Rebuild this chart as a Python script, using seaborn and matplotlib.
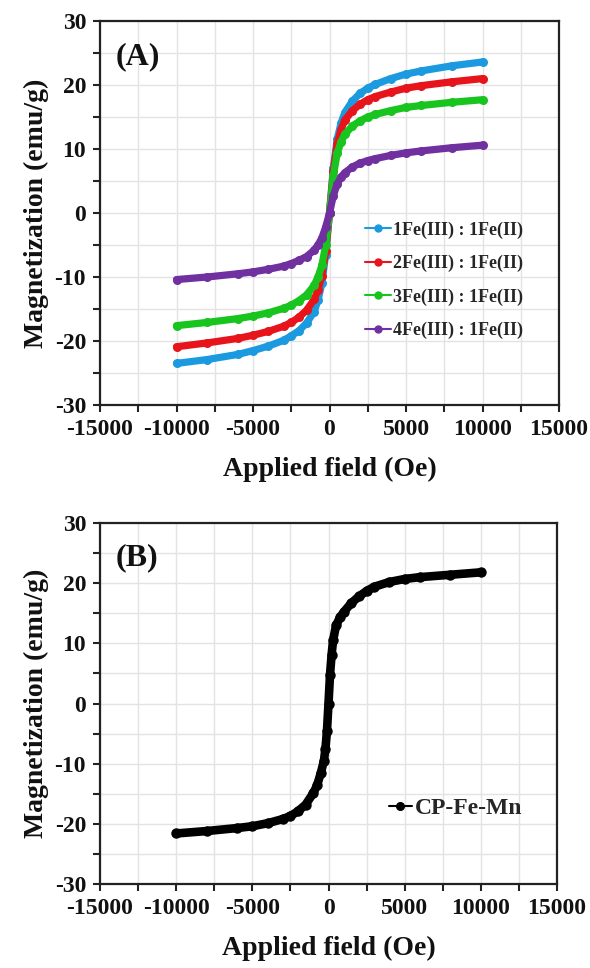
import numpy as np
import pandas as pd
import matplotlib
matplotlib.use("Agg")
import matplotlib.pyplot as plt
import matplotlib.ticker as mticker
from matplotlib.lines import Line2D
import seaborn as sns

# ---------------- data ----------------
field = [-10000, -8000, -6000, -5000, -4000, -3000, -2500, -2000, -1500, -1000,
         -750, -500, -250, 0, 250, 500, 750, 1000, 1500, 2000, 2500, 3000,
         4000, 5000, 6000, 8000, 10000]

m_1fe = [-23.5, -22.9, -22.1, -21.5, -20.8, -19.9, -19.2, -18.4, -17.2, -15.4,
         -13.6, -11.0, -6.5, 0.0, 7.0, 11.5, 14.0, 15.7, 17.5, 18.7, 19.5, 20.1,
         21.0, 21.7, 22.2, 23.0, 23.6]
m_2fe = [-20.9, -20.3, -19.6, -19.1, -18.5, -17.7, -17.1, -16.3, -15.2, -13.5,
         -12.0, -9.8, -6.0, 0.0, 6.5, 10.8, 13.0, 14.5, 16.0, 17.0, 17.7, 18.2,
         18.9, 19.5, 19.9, 20.5, 21.0]
m_3fe = [-17.6, -17.1, -16.5, -16.1, -15.6, -14.9, -14.4, -13.7, -12.8, -11.3,
         -10.0, -8.2, -5.0, 0.0, 5.8, 9.3, 11.1, 12.3, 13.6, 14.4, 15.0, 15.4,
         16.0, 16.5, 16.8, 17.3, 17.7]
m_4fe = [-10.4, -10.0, -9.5, -9.2, -8.8, -8.3, -7.9, -7.4, -6.8, -5.8,
         -5.0, -3.9, -2.2, 0.0, 2.7, 4.5, 5.6, 6.3, 7.2, 7.8, 8.2, 8.5,
         9.0, 9.4, 9.7, 10.2, 10.6]
labels_a = ["1Fe(III) : 1Fe(II)", "2Fe(III) : 1Fe(II)",
            "3Fe(III) : 1Fe(II)", "4Fe(III) : 1Fe(II)"]
colors_a = ["#1c9ae0", "#e8141c", "#18c41e", "#7030a0"]

field_b = [-10000, -8000, -6000, -5000, -4000, -3000, -2500, -2000, -1500, -1000,
           -750, -500, -300, -200, -100, 0, 100, 200, 300, 500, 750, 1000, 1500,
           2000, 2500, 3000, 4000, 5000, 6000, 8000, 10000]
m_cp = [-21.6, -21.2, -20.7, -20.4, -19.9, -19.2, -18.7, -17.9, -16.8, -14.9,
        -13.6, -11.5, -9.5, -7.5, -4.5, 0.0, 4.8, 8.0, 10.5, 13.0, 14.3, 15.2,
        16.7, 17.8, 18.7, 19.4, 20.2, 20.7, 21.0, 21.4, 21.8]
label_b = "CP-Fe-Mn"

xticks = [-15000, -10000, -5000, 0, 5000, 10000, 15000]
yticks = [-30, -20, -10, 0, 10, 20, 30]

# ---------------- style ----------------
sns.set_theme(style="white")
plt.rcParams["font.family"] = ["Liberation Serif", "DejaVu Serif"]
plt.rcParams["font.weight"] = "bold"

fig = plt.figure(figsize=(5.9, 9.68), dpi=100)
axA = fig.add_axes([100 / 590, 1 - 405 / 968, 459 / 590, 384 / 968])
axB = fig.add_axes([100 / 590, 1 - 884 / 968, 457 / 590, 361 / 968])

dfA = pd.concat([
    pd.DataFrame({"H": field, "M": m, "S": lab})
    for m, lab in zip([m_1fe, m_2fe, m_3fe, m_4fe], labels_a)
])
dfB = pd.DataFrame({"H": field_b, "M": m_cp, "S": label_b})

sns.lineplot(data=dfA, x="H", y="M", hue="S", palette=colors_a, marker="o",
             markersize=6.5, markeredgewidth=0, linewidth=5.2, sort=False,
             ax=axA, legend=False)
sns.lineplot(data=dfB, x="H", y="M", color="black", marker="o",
             markersize=7.5, markeredgewidth=0, linewidth=6.2, sort=False,
             ax=axB, legend=False)


def style(ax, letter):
    ax.set_xlim(-15000, 15000)
    ax.set_ylim(-30, 30)
    ax.set_xticks(xticks)
    ax.set_yticks(yticks)
    ax.set_xticklabels([str(t) for t in xticks])
    ax.set_yticklabels([str(t) for t in yticks])
    ax.xaxis.set_minor_locator(mticker.MultipleLocator(2500))
    ax.yaxis.set_minor_locator(mticker.MultipleLocator(5))
    ax.grid(True, which="both", color="#e3e3e3", linewidth=1.0)
    ax.set_axisbelow(True)
    for s in ax.spines.values():
        s.set_visible(True)
        s.set_color("#222222")
        s.set_linewidth(1.6)
    ax.tick_params(which="both", direction="out", length=5, width=1.5,
                   color="#222222", bottom=True, left=True, top=False,
                   right=False)
    ax.tick_params(axis="x", labelsize=17, pad=5)
    ax.tick_params(axis="y", labelsize=17, pad=5)
    for lab in ax.get_xticklabels() + ax.get_yticklabels():
        lab.set_fontweight("bold")
        lab.set_color("#111111")
    ax.set_xlabel("Applied field (Oe)", fontsize=20, fontweight="bold",
                  labelpad=12, color="#111111")
    ax.set_ylabel("Magnetization (emu/g)", fontsize=20, fontweight="bold",
                  labelpad=4, color="#111111")
    ax.text(0.035, 0.945, letter, transform=ax.transAxes, fontsize=23,
            fontweight="bold", va="top", ha="left", color="#111111")


style(axA, "(A)")
style(axB, "(B)")

# legends
hA = [Line2D([], [], color=c, marker="o", markersize=5, linewidth=1.5)
      for c in colors_a]
axA.legend(hA, labels_a, loc="center left",
           bbox_to_anchor=(0.543, 0.325), frameon=False,
           handlelength=1.4, handletextpad=0.1, labelspacing=0.9,
           prop={"family": "Liberation Serif", "weight": "bold", "size": 13})
hB = [Line2D([], [], color="black", marker="o", markersize=5.5, linewidth=1.5)]
axB.legend(hB, [label_b], loc="center left",
           bbox_to_anchor=(0.585, 0.21), frameon=False,
           handlelength=1.0, handletextpad=0.1,
           prop={"family": "Liberation Serif", "weight": "bold", "size": 17})

fig.savefig("out.png", dpi=100)
